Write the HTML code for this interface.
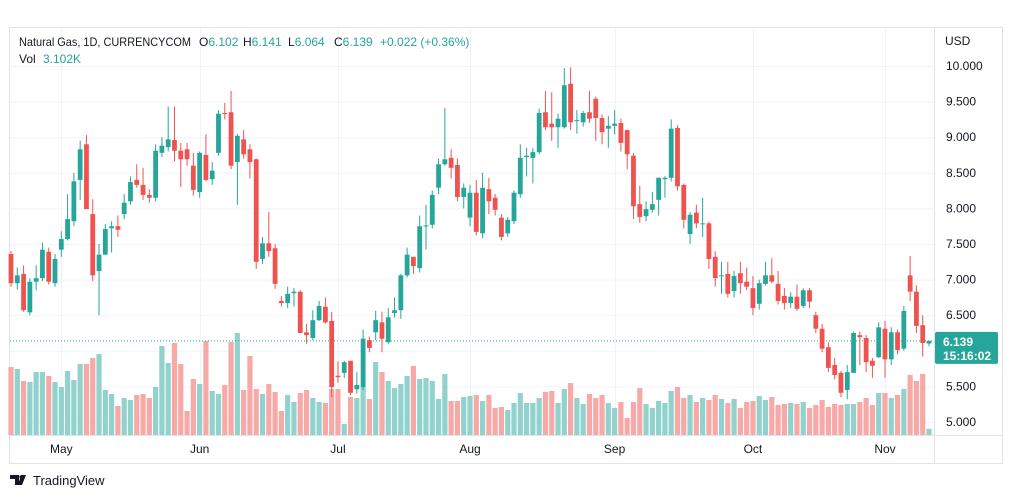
<!DOCTYPE html>
<html><head><meta charset="utf-8">
<style>
body{margin:0;background:#fff;width:1012px;height:498px;overflow:hidden;font-family:"Liberation Sans",sans-serif;}
svg{position:absolute;left:0;top:0}
</style></head>
<body>
<svg id="c" width="1012" height="498" xmlns="http://www.w3.org/2000/svg"></svg>
<script>
const opens=[7.36,6.95,7.08,6.54,6.97,7.02,7.39,6.95,7.42,7.57,7.82,8.40,8.90,7.92,7.12,7.35,7.72,7.75,7.92,8.10,8.40,8.33,8.19,8.15,8.78,8.86,8.96,8.81,8.83,8.60,8.23,8.75,8.41,8.78,9.34,9.35,8.65,8.97,8.83,8.69,7.29,7.51,7.44,6.70,6.67,6.81,6.83,6.26,6.18,6.43,6.62,6.42,5.65,5.69,5.86,5.46,5.49,6.15,6.26,6.40,6.12,6.53,6.57,7.06,7.32,7.16,7.75,7.77,8.29,8.62,8.71,8.61,8.16,7.87,8.22,7.65,8.27,8.15,7.87,7.65,7.82,8.20,8.72,8.71,8.79,9.35,9.19,9.14,9.14,9.75,9.23,9.21,9.35,9.54,9.27,9.12,9.16,9.20,9.10,8.74,8.06,7.89,7.98,8.12,8.41,8.43,9.13,8.33,7.64,7.94,7.78,7.79,7.32,7.05,7.08,6.84,7.09,6.97,6.88,6.66,6.94,7.06,6.94,6.77,6.67,6.76,6.63,6.85,6.50,6.31,6.05,5.80,5.69,5.45,5.69,6.22,6.18,5.86,5.91,6.31,5.88,6.26,6.03,7.06,6.83,6.36,6.102];
const closes=[6.95,7.06,6.57,6.97,7.02,7.42,6.97,7.29,7.57,7.85,8.38,8.83,7.99,7.06,7.35,7.71,7.75,7.70,8.08,8.37,8.33,8.19,8.15,8.81,8.88,8.97,8.81,8.69,8.69,8.26,8.78,8.40,8.53,9.33,9.33,8.60,9.02,8.76,8.65,7.25,7.51,7.40,6.94,6.67,6.80,6.83,6.25,6.22,6.43,6.63,6.40,5.49,5.63,5.84,5.41,5.52,6.17,6.04,6.43,6.17,6.47,6.57,7.06,7.35,7.19,7.75,7.76,8.19,8.62,8.69,8.57,8.16,8.29,8.22,7.67,8.29,8.10,7.98,7.60,7.84,8.22,8.71,8.74,8.79,9.34,9.14,9.14,9.26,9.73,9.21,9.24,9.34,9.26,9.27,9.07,9.16,9.19,8.92,8.76,8.03,7.88,7.99,8.06,8.43,8.43,9.12,8.31,7.84,7.91,7.79,7.79,7.29,7.02,7.06,6.80,7.05,6.95,6.90,6.60,6.95,7.06,6.97,6.70,6.67,6.76,6.59,6.85,6.69,6.31,6.03,5.76,5.66,5.41,5.70,6.25,6.19,5.84,5.79,6.33,5.88,6.26,6.01,6.56,6.83,6.35,6.11,6.139];
const highs=[7.40,7.17,7.20,7.02,7.20,7.52,7.45,7.36,7.68,8.20,8.50,8.95,9.03,8.13,7.50,7.78,7.82,7.90,8.20,8.45,8.62,8.57,8.27,8.90,9.00,9.43,9.43,8.92,8.92,8.78,8.80,9.04,8.65,9.38,9.48,9.65,9.05,9.10,8.90,8.70,7.60,7.95,7.50,6.77,6.90,6.88,6.85,6.38,6.57,6.70,6.75,6.55,5.85,5.86,5.86,5.70,6.30,6.20,6.56,6.55,6.60,6.75,7.08,7.45,7.32,7.90,8.05,8.25,8.70,9.41,8.83,8.70,8.35,8.33,8.40,8.50,8.43,8.20,7.92,7.88,8.25,8.90,8.85,8.85,9.40,9.65,9.63,9.33,9.97,9.98,9.38,9.37,9.65,9.57,9.32,9.30,9.38,9.26,9.10,8.78,8.32,8.10,8.23,8.43,8.45,9.25,9.17,8.35,7.95,8.05,8.15,7.81,7.40,7.25,7.25,7.12,7.25,7.17,7.05,7.00,7.25,7.30,7.12,6.88,6.82,6.93,6.88,6.88,6.55,6.38,6.12,5.90,5.72,5.80,6.27,6.27,6.22,5.90,6.40,6.42,6.33,6.30,6.63,7.33,6.92,6.50,6.141];
const lows=[6.90,6.86,6.55,6.50,6.85,6.98,6.93,6.90,7.32,7.55,7.75,8.12,7.99,6.98,6.50,7.35,7.38,7.60,7.85,8.05,8.29,8.12,8.08,8.10,8.72,8.80,8.66,8.30,8.60,8.18,8.15,8.38,8.33,8.74,9.25,8.55,8.05,8.70,8.42,7.15,7.22,7.32,6.87,6.62,6.60,6.62,6.25,6.10,6.15,6.42,6.38,5.35,5.55,5.62,5.38,5.40,5.45,5.98,6.15,5.98,6.10,6.47,6.45,7.03,7.08,7.10,7.42,7.72,8.20,8.60,8.42,8.10,8.00,7.75,7.62,7.58,7.92,7.90,7.55,7.60,7.78,8.15,8.45,8.35,8.76,9.10,8.95,8.85,9.12,9.10,9.05,9.15,9.20,8.95,8.90,8.85,9.04,8.80,8.55,7.85,7.80,7.82,7.94,7.90,8.15,8.38,8.25,7.72,7.50,7.72,7.60,7.15,6.90,6.80,6.75,6.75,6.80,6.85,6.50,6.58,6.92,6.95,6.65,6.58,6.60,6.56,6.60,6.60,6.25,5.98,5.70,5.60,5.35,5.32,5.69,5.80,5.70,5.62,5.90,5.62,5.80,5.95,6.00,6.70,6.25,5.92,6.064];
const volumes=[34,33,27,26.5,31.5,31.5,29.5,26.5,24,32,27.5,35.5,35.5,38.5,40.5,22.5,20.5,14.5,18.5,17.5,20,20.5,18.5,24,44.5,36,46,35.5,12,28,25.5,47,22,20.5,25,46.5,51,
22.5,39.5,23,20.5,25.5,21.5,12,20,16.5,21,22.5,18.5,16.5,16,23,23,5.5,19,18.5,24,18,36.5,31.5,27,23.5,25.5,29.5,34.5,28,28.5,27,18,30.5,17,17,19,19.5,
20,17,20,13.5,14,12.5,16,21,16,16,18.5,21.5,22,16,23,26,18.5,15.5,20.5,18.5,20,16,13.5,16.5,8.5,16.5,23.5,15.5,13.5,17,16,22,24,18.5,20,16.5,
18.5,17.5,20,18,16,18,13.5,16.5,17,19.5,17.5,19,15,15.5,16,15.5,16.5,13.5,15,17.5,14,15.5,15,15.5,15.5,16.5,18.5,15,21,21,18.5,20,23,30,27,30.5,3.102];
const priceTicks=[10,9.5,9,8.5,8,7.5,7,6.5,6,5.5,5];
const monthLabels=["May","Jun","Jul","Aug","Sep","Oct","Nov"];
const monthIndex=[8,30,52,73,96,118,139];

const svg=document.getElementById('c');
const NS='http://www.w3.org/2000/svg';
const L=10,R=934,T=28,B=435;
const x0=11, step=(929-11)/(opens.length-1);
const X=i=>x0+i*step;
const Y=p=>66+(10-p)*71.2;
const VY=v=>B-v*2;
function mk(tag,attrs,parent){const e=document.createElementNS(NS,tag);for(const k in attrs)e.setAttribute(k,attrs[k]);(parent||svg).appendChild(e);return e;}

const frame=mk('rect',{x:9.5,y:T-0.5,width:993,height:436,fill:'none',stroke:'#e0e3eb'});


const grid=mk('g',{});


priceTicks.forEach(p=>{mk('line',{x1:L,x2:R,y1:Y(p)+0.5,y2:Y(p)+0.5,stroke:'#f0f3fa'},grid);});
monthIndex.forEach(i=>{const x=Math.round(X(i))+0.5;mk('line',{x1:x,x2:x,y1:T,y2:B,stroke:'#f0f3fa'},grid);});

const vg=mk('g',{});


volumes.forEach((v,i)=>{
  const up=closes[i]>=opens[i];
  const r=mk('rect',{x:X(i)-2.6,y:VY(v),width:5.2,height:B-VY(v),fill:up?'#92d2cc':'#f7a9a7'},vg);
  
  
});
const pl=mk('line',{x1:L,x2:R,y1:Y(closes[closes.length-1]),y2:Y(closes[closes.length-1]),stroke:'#26a69a','stroke-dasharray':'1 2'});



const cg=mk('g',{});


opens.forEach((o,i)=>{
  const c=closes[i],up=c>=o,col=up?'#26a69a':'#ef5350',x=X(i);
  const g=mk('g',{},cg);
  
  
  mk('line',{x1:x,x2:x,y1:Y(highs[i]),y2:Y(lows[i]),stroke:col,'stroke-width':1},g);
  const top=Y(Math.max(o,c)),bot=Y(Math.min(o,c));
  mk('rect',{x:x-2.4,y:top,width:4.8,height:Math.max(1,bot-top),fill:col},g);
});

mk('line',{x1:R+0.5,x2:R+0.5,y1:T,y2:463,stroke:'#e0e3eb'});
mk('line',{x1:L,x2:1003,y1:B+0.5,y2:B+0.5,stroke:'#e0e3eb'});

const pa=mk('g',{'font-size':12,fill:'#131722'});


priceTicks.forEach(p=>{const t=mk('text',{x:946,y:Y(p)+4},pa);t.textContent=p.toFixed(3);
  
  });
const usd=mk('text',{x:945,y:45,'font-size':12,fill:'#131722'});usd.textContent='USD';



const last=closes[closes.length-1];
const tag=mk('g',{});


mk('rect',{x:935,y:Y(last)-9,width:63,height:32,rx:2,fill:'#26a69a'},tag);
const t1=mk('text',{x:943,y:Y(last)+5,'font-size':12,'font-weight':'bold',fill:'#fff'},tag);t1.textContent=last.toFixed(3);
const t2=mk('text',{x:943,y:Y(last)+19,'font-size':12,'font-weight':'bold',fill:'#fff'},tag);t2.textContent='15:16:02';

const ta=mk('g',{'font-size':12,fill:'#131722','text-anchor':'middle'});


monthLabels.forEach((m,k)=>{const t=mk('text',{x:X(monthIndex[k]),y:453},ta);t.textContent=m;
  
  });

const title=mk('text',{x:19,y:46,'font-size':12,fill:'#131722',textLength:172,lengthAdjust:'spacingAndGlyphs'});


title.textContent='Natural Gas, 1D, CURRENCYCOM';
const lg=mk('text',{x:199,y:46,'font-size':12,fill:'#131722'});


lg.innerHTML='<tspan>O</tspan><tspan fill="#26a69a">6.102</tspan><tspan x="243">H</tspan><tspan fill="#26a69a">6.141</tspan><tspan x="288">L</tspan><tspan fill="#26a69a">6.064</tspan><tspan x="334">C</tspan><tspan fill="#26a69a">6.139</tspan><tspan x="380" fill="#26a69a">+0.022 (+0.36%)</tspan>';
const vl=mk('text',{x:19,y:63,'font-size':12,fill:'#131722'});


vl.innerHTML='<tspan>Vol</tspan><tspan x="43" fill="#26a69a">3.102K</tspan>';

const lo=mk('g',{});


mk('path',{d:'M10 475h9v10h-4v-6h-5z M21 475h5l-4 10h-4z',fill:'#131722'},lo);
mk('circle',{cx:21,cy:477,r:1.6,fill:'#131722'},lo);
const lt=mk('text',{x:33,y:485,'font-size':13,fill:'#131722'},lo);lt.textContent='TradingView';
</script>
</body></html>
